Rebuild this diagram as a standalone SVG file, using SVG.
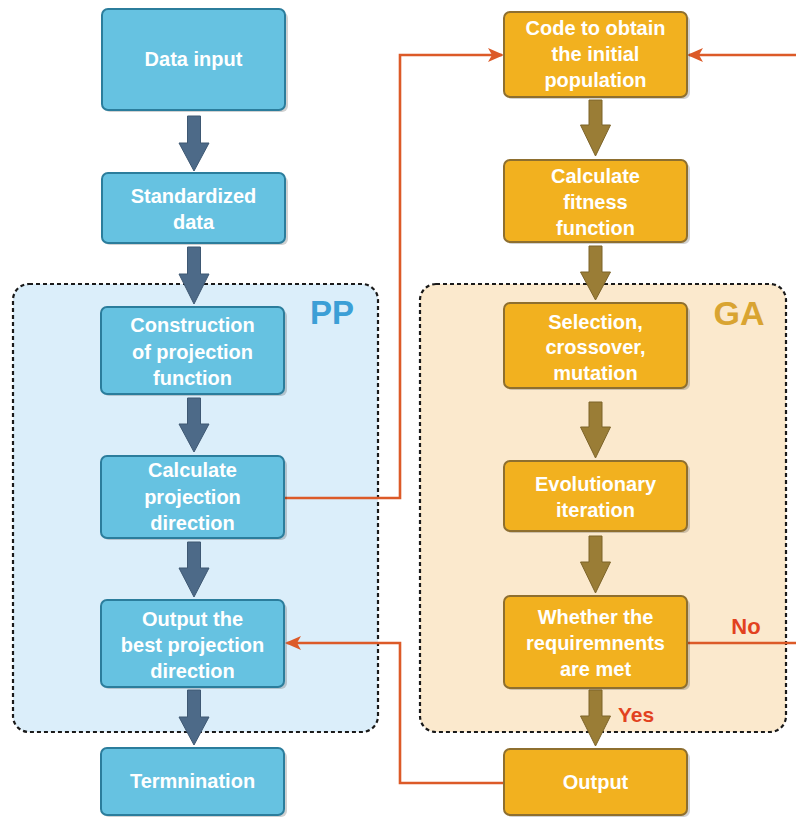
<svg xmlns="http://www.w3.org/2000/svg" width="796" height="819" viewBox="0 0 796 819">
<defs>
<style>
.bb{fill:#66c2e1;stroke:#2b7d9c;stroke-width:2}
.ob{fill:#f2b11f;stroke:#8e6f2f;stroke-width:2}
.sh{fill:#000;opacity:0.18}
.t{font-family:"Liberation Sans",Arial,sans-serif;font-weight:bold;font-size:20px;fill:#ffffff;text-anchor:middle}
.ba{fill:#4d6a88;stroke:#3e5873;stroke-width:1}
.oa{fill:#9a7d36;stroke:#7d6429;stroke-width:1}
.ol{fill:none;stroke:#dc5a28;stroke-width:2.6}
.lbl{font-family:"Liberation Sans",Arial,sans-serif;font-weight:bold;fill:#e2421f}
</style>
<marker id="ah" markerWidth="16" markerHeight="14" refX="14" refY="7" orient="auto" markerUnits="userSpaceOnUse">
<path d="M0,0 L16,7 L0,14 L4,7 Z" fill="#dc5a28"/>
</marker>
</defs>
<rect width="796" height="819" fill="#ffffff"/>

<g id="pp-group">
<rect x="13" y="284" width="365" height="448" rx="16" fill="#dbeefa" stroke="#1a1a1a" stroke-width="2.2" stroke-dasharray="4,3"/>
<text x="332" y="324" style="font-family:'Liberation Sans',Arial,sans-serif;font-weight:bold;font-size:33px;fill:#3c9fd6" text-anchor="middle">PP</text>
</g>
<g id="ga-group">
<rect x="420" y="284" width="366" height="448" rx="16" fill="#fbe9cd" stroke="#1a1a1a" stroke-width="2.2" stroke-dasharray="4,3"/>
<text x="739" y="325" style="font-family:'Liberation Sans',Arial,sans-serif;font-weight:bold;font-size:34px;fill:#d9a431" text-anchor="middle">GA</text>
</g>

<g id="connectors">
<path class="ba" d="M187.5,116 H200.5 V143 H209 L194,171 L179,143 H187.5 Z"/>
<path class="ba" d="M187.5,247 H200.5 V274 H209 L194,304 L179,274 H187.5 Z"/>
<path class="ba" d="M187.5,398 H200.5 V424 H209 L194,452 L179,424 H187.5 Z"/>
<path class="ba" d="M187.5,542 H200.5 V568 H209 L194,597 L179,568 H187.5 Z"/>
<path class="ba" d="M187.5,690 H200.5 V717 H209 L194,745 L179,717 H187.5 Z"/>
<path class="oa" d="M589,100 H602 V125 H610.5 L595.5,156 L580.5,125 H589 Z"/>
<path class="oa" d="M589,246 H602 V272 H610.5 L595.5,300 L580.5,272 H589 Z"/>
<path class="oa" d="M589,402 H602 V427 H610.5 L595.5,458 L580.5,427 H589 Z"/>
<path class="oa" d="M589,536 H602 V562 H610.5 L595.5,593 L580.5,562 H589 Z"/>
<path class="oa" d="M589,690 H602 V716 H610.5 L595.5,746 L580.5,716 H589 Z"/>
<path class="ol" d="M285,498 H400 V55 H502" marker-end="url(#ah)"/>
<path class="ol" d="M796,55 H689" marker-end="url(#ah)"/>
<path class="ol" d="M687,643 H796"/>
<path class="ol" d="M504,783 H400 V643 H287" marker-end="url(#ah)"/>
<text class="lbl" x="746" y="634" font-size="22" text-anchor="middle">No</text>
<text class="lbl" x="636" y="722" font-size="21" text-anchor="middle">Yes</text>
</g>

<g id="data-input">
<rect class="sh" x="104" y="12" width="184" height="100" rx="6"/>
<rect class="bb" x="102" y="9" width="183" height="101" rx="6"/>
<text class="t" x="193.5" y="66">Data input</text>
</g>
<g id="standardized-data">
<rect class="sh" x="104" y="176" width="184" height="69" rx="6"/>
<rect class="bb" x="102" y="173" width="183" height="70" rx="6"/>
<text class="t" x="193.5" y="203">Standardized</text>
<text class="t" x="193.5" y="229">data</text>
</g>
<g id="construction">
<rect class="sh" x="103" y="310" width="184" height="86" rx="6"/>
<rect class="bb" x="101" y="307" width="183" height="87" rx="6"/>
<text class="t" x="192.5" y="332">Construction</text>
<text class="t" x="192.5" y="359">of projection</text>
<text class="t" x="192.5" y="385">function</text>
</g>
<g id="calc-projection">
<rect class="sh" x="103" y="459" width="184" height="81" rx="6"/>
<rect class="bb" x="101" y="456" width="183" height="82" rx="6"/>
<text class="t" x="192.5" y="477">Calculate</text>
<text class="t" x="192.5" y="504">projection</text>
<text class="t" x="192.5" y="530">direction</text>
</g>
<g id="output-best">
<rect class="sh" x="103" y="603" width="184" height="86" rx="6"/>
<rect class="bb" x="101" y="600" width="183" height="87" rx="6"/>
<text class="t" x="192.5" y="626">Output the</text>
<text class="t" x="192.5" y="652">best projection</text>
<text class="t" x="192.5" y="678">direction</text>
</g>
<g id="termination">
<rect class="sh" x="103" y="751" width="184" height="66" rx="6"/>
<rect class="bb" x="101" y="748" width="183" height="67" rx="6"/>
<text class="t" x="192.5" y="788">Termnination</text>
</g>

<g id="code-initial">
<rect class="sh" x="506" y="15" width="184" height="84" rx="6"/>
<rect class="ob" x="504" y="12" width="183" height="85" rx="6"/>
<text class="t" x="595.5" y="35">Code to obtain</text>
<text class="t" x="595.5" y="61">the initial</text>
<text class="t" x="595.5" y="87">population</text>
</g>
<g id="calc-fitness">
<rect class="sh" x="506" y="163" width="184" height="81" rx="6"/>
<rect class="ob" x="504" y="160" width="183" height="82" rx="6"/>
<text class="t" x="595.5" y="183">Calculate</text>
<text class="t" x="595.5" y="209">fitness</text>
<text class="t" x="595.5" y="235">function</text>
</g>
<g id="selection">
<rect class="sh" x="506" y="306" width="184" height="84" rx="6"/>
<rect class="ob" x="504" y="303" width="183" height="85" rx="6"/>
<text class="t" x="595.5" y="329">Selection,</text>
<text class="t" x="595.5" y="354">crossover,</text>
<text class="t" x="595.5" y="380">mutation</text>
</g>
<g id="evolutionary">
<rect class="sh" x="506" y="464" width="184" height="69" rx="6"/>
<rect class="ob" x="504" y="461" width="183" height="70" rx="6"/>
<text class="t" x="595.5" y="491">Evolutionary</text>
<text class="t" x="595.5" y="517">iteration</text>
</g>
<g id="whether">
<rect class="sh" x="506" y="599" width="184" height="91" rx="6"/>
<rect class="ob" x="504" y="596" width="183" height="92" rx="6"/>
<text class="t" x="595.5" y="624">Whether the</text>
<text class="t" x="595.5" y="650">requiremnents</text>
<text class="t" x="595.5" y="676">are met</text>
</g>
<g id="output">
<rect class="sh" x="506" y="752" width="184" height="65" rx="6"/>
<rect class="ob" x="504" y="749" width="183" height="66" rx="6"/>
<text class="t" x="595.5" y="789">Output</text>
</g>
</svg>
